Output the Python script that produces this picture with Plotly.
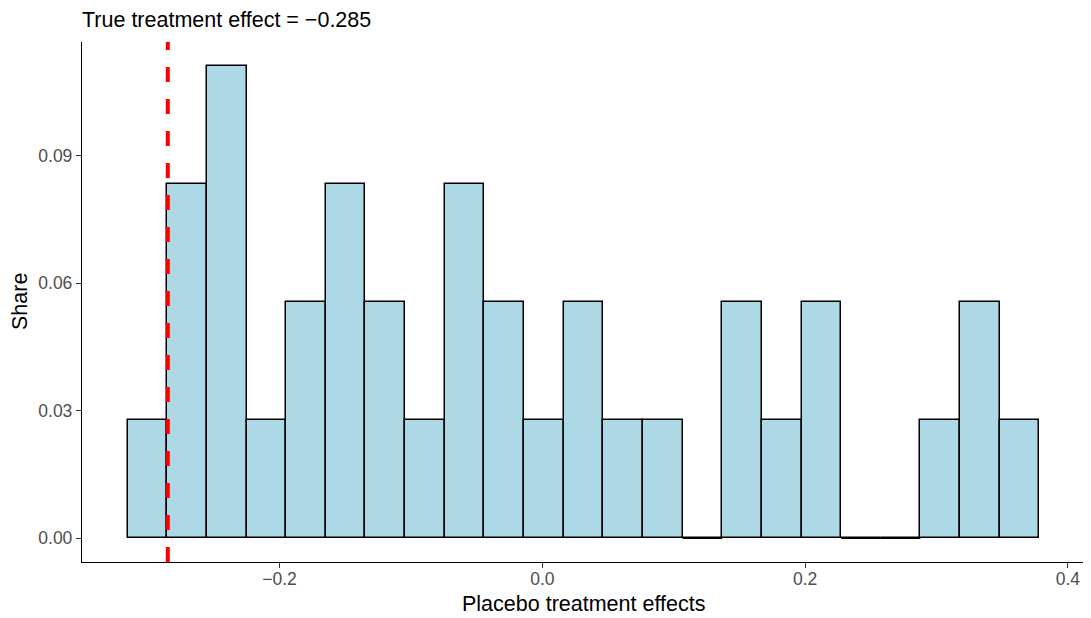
import plotly.graph_objects as go

# Histogram data (36 placebo estimates, 23 bins)
bin_start = -0.3156
bin_width = 0.03017
counts = [1, 3, 4, 1, 2, 3, 2, 1, 3, 2, 1, 2, 1, 1, 0, 2, 1, 2, 0, 0, 1, 2, 1]
n_total = 36
true_effect = -0.285

x_tickvals = [-0.2, 0.0, 0.2, 0.4]
x_ticktext = ["\u22120.2", "0.0", "0.2", "0.4"]
y_tickvals = [0.0, 0.03, 0.06, 0.09]

share = [c / n_total for c in counts]
left_edges = [bin_start + i * bin_width for i in range(len(counts))]
centers = [l + bin_width / 2 for l in left_edges]

fig = go.Figure()
fig.add_trace(go.Bar(
    x=centers, y=share, width=[bin_width] * len(counts),
    marker=dict(color="#ADD8E6", line=dict(color="black", width=1.5)),
    hoverinfo="x+y", showlegend=False,
))

# empty bins drawn as flat segments at zero (as ggplot does)
ex, ey = [], []
for l, c in zip(left_edges, counts):
    if c == 0:
        ex += [l, l + bin_width, None]
        ey += [0, 0, None]
fig.add_trace(go.Scatter(x=ex, y=ey, mode="lines",
                         line=dict(color="black", width=1.5),
                         showlegend=False, hoverinfo="skip"))

fig.add_shape(type="line", xref="x", yref="paper",
              x0=true_effect, x1=true_effect, y0=0, y1=1,
              line=dict(color="red", width=4, dash="15px,17px"), layer="above")

lo = bin_start
hi = bin_start + bin_width * len(counts)
pad = (hi - lo) * 0.05
ymax = max(share)

# page has an 8px body margin; figure sized to fit the window
W, H = 1083, 610
L, R, T, B = 74, 6, 34, 56
pw, ph = W - L - R, H - T - B

font_family = "Liberation Sans, Arial, Helvetica, sans-serif"
fig.update_layout(
    width=W, height=H,
    margin=dict(l=L, r=R, t=T, b=B),
    paper_bgcolor="white", plot_bgcolor="white",
    bargap=0,
    font=dict(family=font_family, color="black"),
    title=dict(text="True treatment effect = \u22120.285", x=L / W, xanchor="left",
               y=1 - 11 / H, yanchor="middle",
               font=dict(size=21.5, color="black", family=font_family)),
    xaxis=dict(
        range=[lo - pad, hi + pad], tickvals=x_tickvals, ticktext=x_ticktext,
        showgrid=False, zeroline=False, showline=True, linecolor="black", linewidth=1.3,
        ticks="outside", ticklen=5, tickcolor="#333333", tickwidth=1.2,
        tickfont=dict(size=17.5, color="#4D4D4D"), automargin=False,
        ticklabelstandoff=-4,
    ),
    yaxis=dict(
        range=[-ymax * 0.05, ymax * 1.05], tickvals=y_tickvals, tickformat=".2f",
        showgrid=False, zeroline=False, showline=True, linecolor="black", linewidth=1.3,
        ticks="outside", ticklen=5, tickcolor="#333333", tickwidth=1.2,
        tickfont=dict(size=17.5, color="#4D4D4D"), automargin=False,
    ),
    annotations=[
        dict(text="Placebo treatment effects", xref="paper", yref="paper",
             x=0.5, y=-(596 - (T + ph)) / ph, xanchor="center", yanchor="middle",
             showarrow=False, font=dict(size=21.5, color="black")),
        dict(text="Share", xref="paper", yref="paper", textangle=-90,
             x=(12 - L) / pw, y=0.5, xanchor="center", yanchor="middle",
             showarrow=False, font=dict(size=21.5, color="black")),
    ],
)

fig.write_html("out.html")
